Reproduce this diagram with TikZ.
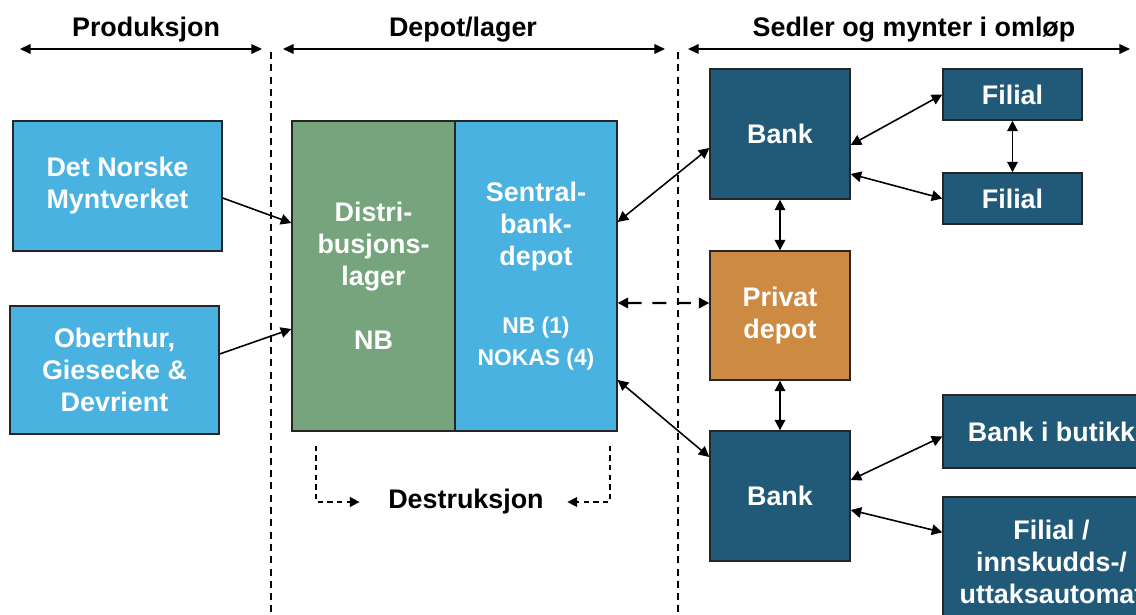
\documentclass[tikz,border=0pt]{standalone}
\usepackage{fontspec}
\setmainfont{Liberation Sans}
\usetikzlibrary{arrows.meta}
\definecolor{prodblue}{HTML}{4AB2E0}
\definecolor{lagergreen}{HTML}{76A47C}
\definecolor{bankblue}{HTML}{215A78}
\definecolor{depotorange}{HTML}{CD8A42}
\newcommand\nbfont{\fontsize{13}{15.9}\selectfont}
\begin{document}
\begin{tikzpicture}[x=0.02cm,y=-0.02cm,
    box/.style={draw=black!85,line width=0.8pt,text=white,align=center,inner sep=0pt,
        font=\bfseries\fontsize{15.3}{18.2}\selectfont},
    head/.style={font=\bfseries\fontsize{15.3}{18.2}\selectfont},
    link/.style={{Triangle[length=6pt,width=6pt]}-{Triangle[length=6pt,width=6pt]},line width=0.9pt},
    feed/.style={-{Triangle[length=6pt,width=6pt]},line width=0.9pt},
    span/.style={{Triangle[length=6pt,width=5.5pt]}-{Triangle[length=6pt,width=5.5pt]},line width=0.7pt},
    divider/.style={dashed,line width=0.6pt,dash pattern=on 4pt off 3pt},
    scrap/.style={-{Triangle[length=5.5pt,width=5.5pt]},line width=0.9pt,dash pattern=on 3pt off 2.5pt}]
    \useasboundingbox (0,0) rectangle (1136,615);
    \clip (0,0) rectangle (1136,615);
    \node[head] (prod) at (146,30) {Produksjon};
    \node[head] (lager) at (463,30) {Depot/lager};
    \node[head] (omlop) at (914,30) {Sedler og mynter i omløp};
    \foreach \a/\b in {20/262, 283/665, 688/1130} {
        \draw[span] (\a,49) -- (\b,49);
    }
    \foreach \x in {271, 678} {
        \draw[divider] (\x,52) -- (\x,615);
    }
    \node[box,fill=prodblue,minimum width=4.18cm,minimum height=2.6cm] (mynt) at (117.5,186) {Det Norske\\Myntverket};
    \node[box,fill=prodblue,minimum width=4.18cm,minimum height=2.56cm] (gd) at (114.5,370) {Oberthur,\\Giesecke \&\\Devrient};
    \node[box,fill=lagergreen,minimum width=3.26cm,minimum height=6.2cm] (distr) at (373.5,276) {Distri-\\busjons-\\lager\\[0.64cm]NB};
    \node[box,fill=prodblue,minimum width=3.24cm,minimum height=6.2cm] (sentral) at (536,276) {Sentral-\\bank-\\depot\\[0.72cm]\nbfont NB (1)\\\nbfont NOKAS (4)};
    \node[box,fill=bankblue,minimum width=2.8cm,minimum height=2.6cm] (banktop) at (780,134) {Bank};
    \node[box,fill=bankblue,minimum width=2.78cm,minimum height=1.02cm] (filial1) at (1012.5,94.5) {Filial};
    \node[box,fill=bankblue,minimum width=2.78cm,minimum height=1.02cm] (filial2) at (1012.5,198.5) {Filial};
    \node[box,fill=depotorange,minimum width=2.8cm,minimum height=2.58cm] (privat) at (780,315.5) {Privat\\depot};
    \node[box,fill=bankblue,minimum width=2.8cm,minimum height=2.6cm] (bankbot) at (780,496) {Bank};
    \node[box,fill=bankblue,minimum width=4.34cm,minimum height=1.46cm] (butikk) at (1051.5,431.5) {Bank i butikk};
    \node[box,fill=bankblue,minimum width=4.34cm,minimum height=2.6cm] (automat) at (1051.5,562) {Filial /\\innskudds-/\\uttaksautomat};
    \node[head] (destr) at (466,502) {Destruksjon};
    \draw[feed] ([yshift=-0.24cm]mynt.east) -- ([yshift=1.06cm]distr.west);
    \draw[feed] ([yshift=0.32cm]gd.east) -- ([yshift=-1.06cm]distr.west);
    \draw[link] ([yshift=1.08cm]sentral.east) -- ([yshift=-0.28cm]banktop.west);
    \draw[link] ([yshift=-2.08cm]sentral.east) -- ([yshift=0.78cm]bankbot.west);
    \draw[link,line width=1.3pt,dash pattern=on 8pt off 6pt] ([yshift=-0.54cm]sentral.east) -- ([yshift=0.25cm]privat.west);
    \draw[link] ([yshift=-0.22cm]banktop.east) -- (filial1.west);
    \draw[link] ([yshift=-0.8cm]banktop.east) -- (filial2.west);
    \draw[link,line width=1.1pt] (filial1) -- (filial2);
    \draw[link,line width=1.1pt] (banktop) -- (privat);
    \draw[link,line width=1.1pt] (privat) -- (bankbot);
    \draw[link] ([yshift=0.32cm]bankbot.east) -- ([yshift=-0.1cm]butikk.west);
    \draw[link] ([yshift=-0.28cm]bankbot.east) -- ([yshift=-0.72cm]automat.north west);
    \draw[scrap] ([xshift=-1.15cm,yshift=-0.28cm]distr.south) |- ([xshift=-0.45cm]destr.west);
    \draw[scrap] ([xshift=1.48cm,yshift=-0.28cm]sentral.south) |- ([xshift=0.35cm]destr.east);
\end{tikzpicture}
\end{document}
